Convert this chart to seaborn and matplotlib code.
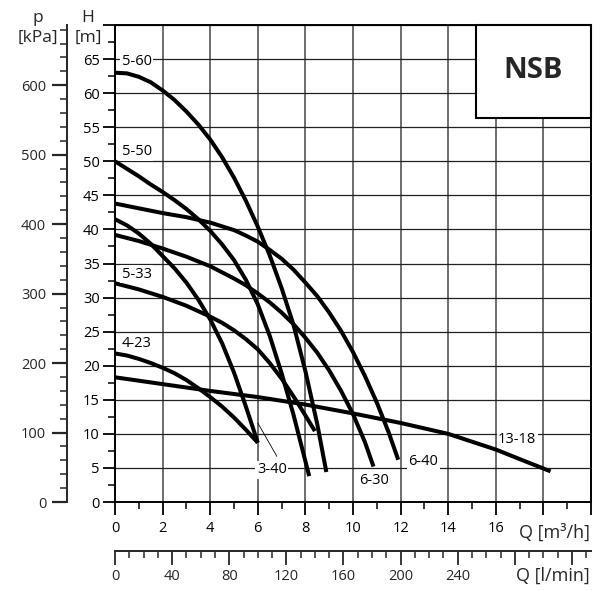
import numpy as np
import pandas as pd
import matplotlib
matplotlib.use("Agg")
import matplotlib.pyplot as plt
from matplotlib.patches import Rectangle
from matplotlib.ticker import MultipleLocator, FixedLocator, FuncFormatter
import seaborn as sns

# Pump performance curves: flow Q [m³/h] vs. head H [m]
pumps = ["5-60", "5-50", "6-40", "3-40", "6-30", "5-33", "4-23", "13-18"]

q_5_60 = [0, 0.5, 1, 1.5, 2, 2.5, 3, 3.5, 4, 4.5, 5, 5.5, 6, 6.5, 7, 7.5, 8, 8.5, 8.88]
h_5_60 = [63.0, 62.9, 62.4, 61.6, 60.4, 59.0, 57.3, 55.4, 53.2, 50.6, 47.6, 44.2, 40.4,
          36.2, 31.4, 26.0, 19.2, 11.4, 4.4]

q_5_50 = [0, 0.5, 1, 1.5, 2, 2.5, 3, 3.5, 4, 4.5, 5, 5.5, 6, 6.5, 7, 7.5, 8.16]
h_5_50 = [50.0, 48.9, 47.8, 46.6, 45.5, 44.3, 43.0, 41.5, 39.8, 37.8, 35.5, 32.6, 29.0,
          24.4, 18.9, 12.8, 3.8]

q_6_40 = [0, 1, 2, 3, 4, 5, 5.5, 6, 6.5, 7, 7.5, 8, 8.5, 9, 9.5, 10, 10.5, 11, 11.5, 11.9]
h_6_40 = [43.8, 43.1, 42.4, 41.8, 41.0, 39.9, 39.1, 38.2, 37.0, 35.7, 34.1, 32.2, 30.2,
          27.8, 25.1, 22.0, 18.5, 14.6, 10.2, 6.2]

q_3_40 = [0, 0.5, 1, 1.5, 2, 2.5, 3, 3.5, 4, 4.5, 5, 5.5, 6]
h_3_40 = [41.5, 40.6, 39.4, 37.9, 36.1, 34.3, 32.2, 29.7, 26.8, 23.3, 19.0, 14.0, 8.7]

q_6_30 = [0, 1, 2, 3, 4, 5, 5.5, 6, 6.5, 7, 7.5, 8, 8.5, 9, 9.5, 10, 10.5, 10.86]
h_6_30 = [39.2, 38.3, 37.2, 36.0, 34.6, 32.8, 31.8, 30.6, 29.3, 27.8, 26.1, 24.1, 21.9,
          19.3, 16.3, 12.9, 8.8, 5.2]

q_5_33 = [0, 1, 2, 3, 4, 4.5, 5, 5.5, 6, 6.5, 7, 7.5, 8, 8.4]
h_5_33 = [32.1, 31.2, 30.1, 28.8, 27.2, 26.3, 25.2, 23.9, 22.4, 20.4, 18.1, 15.5, 12.7, 10.4]

q_4_23 = [0, 0.5, 1, 1.5, 2, 2.5, 3, 3.5, 4, 4.5, 5, 5.5, 6]
h_4_23 = [21.8, 21.5, 21.0, 20.4, 19.7, 18.9, 17.9, 16.7, 15.4, 14.0, 12.4, 10.6, 8.7]

q_13_18 = [0, 2, 4, 6, 8, 10, 12, 14, 16, 17, 18.3]
h_13_18 = [18.3, 17.3, 16.3, 15.4, 14.3, 13.0, 11.6, 10.0, 7.7, 6.3, 4.5]

flows = [q_5_60, q_5_50, q_6_40, q_3_40, q_6_30, q_5_33, q_4_23, q_13_18]
heads = [h_5_60, h_5_50, h_6_40, h_3_40, h_6_30, h_5_33, h_4_23, h_13_18]

# axis tick values
h_ticks = list(range(0, 71, 5))
p_ticks = list(range(0, 601, 100))
q_ticks = list(range(0, 21, 2))
lmin_ticks = list(range(0, 321, 40))

df = pd.concat(
    [pd.DataFrame({"pump": name, "Q": q, "H": h}) for name, q, h in zip(pumps, flows, heads)],
    ignore_index=True,
)

sns.set_style("white")
plt.rcParams["font.family"] = ["Open Sans", "DejaVu Sans"]

W, H_PX = 595, 590
fig = plt.figure(figsize=(W / 100, H_PX / 100), dpi=100)
ax = fig.add_axes([115 / W, 88 / H_PX, 476 / W, 477 / H_PX])
ax.set_axisbelow(True)

sns.lineplot(
    data=df, x="Q", y="H", hue="pump", palette=["black"] * len(pumps),
    sort=False, estimator=None, legend=False, linewidth=2.9, ax=ax,
)
for line in ax.get_lines():
    line.set_solid_capstyle("butt")
    line.set_solid_joinstyle("round")

ax.set_xlim(0, 20)
ax.set_ylim(0, 70)
ax.set_xlabel("")
ax.set_ylabel("")

# grid
ax.xaxis.set_major_locator(FixedLocator(q_ticks))
ax.xaxis.set_minor_locator(MultipleLocator(1))
ax.yaxis.set_major_locator(FixedLocator(h_ticks))
ax.yaxis.set_minor_locator(MultipleLocator(2.5))
ax.grid(True, which="major", axis="x", color="#555555", linewidth=1.2)
ax.grid(True, which="major", axis="y", color="#222222", linewidth=0.9)

for s in ax.spines.values():
    s.set_visible(True)
    s.set_color("black")
    s.set_linewidth(1.4)

tick_fs = 10.5
ax.xaxis.set_major_formatter(FuncFormatter(lambda v, p: f"{v:.0f}" if v <= 16 else ""))
ax.yaxis.set_major_formatter(FuncFormatter(lambda v, p: f"{v:.0f}" if v <= 65 else ""))
ax.tick_params(axis="both", which="major", direction="out", length=9, width=1.3,
               labelsize=tick_fs, color="black", labelcolor="black")
ax.tick_params(axis="x", which="major", pad=5)
ax.tick_params(axis="y", which="major", pad=2)
ax.tick_params(axis="both", which="minor", direction="out", length=5, width=1.1, color="black")
ax.tick_params(bottom=True, left=True, which="both")

# pressure axis (kPa)
pax = ax.secondary_yaxis(-48 / 476, functions=(lambda h: h * 9.81, lambda p: p / 9.81))
pax.yaxis.set_major_locator(FixedLocator(p_ticks))
pax.yaxis.set_minor_locator(MultipleLocator(20))
pax.tick_params(which="major", direction="out", length=11, width=1.6, labelsize=tick_fs, pad=4)
pax.tick_params(which="minor", direction="out", length=5, width=1.1)
pax.spines["left"].set_linewidth(1.4)

# flow axis in l/min
qax = ax.secondary_xaxis(-48.7 / 477, functions=(lambda q: q * 1000 / 60, lambda l: l * 60 / 1000))
qax.xaxis.set_major_locator(FixedLocator(lmin_ticks))
qax.xaxis.set_minor_locator(MultipleLocator(10))
qax.xaxis.set_major_formatter(FuncFormatter(lambda v, p: f"{v:.0f}" if v <= 240 else ""))
qax.tick_params(which="major", direction="out", length=10, width=1.3, labelsize=tick_fs, pad=3)
qax.tick_params(which="minor", direction="out", length=5, width=1.1)
qax.spines["bottom"].set_linewidth(1.4)

# series labels
lbl = dict(fontsize=10.5, color="black", zorder=5,
           bbox=dict(facecolor="white", edgecolor="none", pad=1.0))
ax.text(0.29, 64.7, "5-60", ha="left", va="center", **lbl)
ax.text(0.29, 51.4, "5-50", ha="left", va="center", **lbl)
ax.text(0.29, 33.4, "5-33", ha="left", va="center", **lbl)
ax.text(0.29, 23.3, "4-23", ha="left", va="center", **lbl)
ax.plot([6.0, 6.8], [11.6, 6.7], color="black", linewidth=0.6, zorder=4)
ax.text(6.59, 4.7, "3-40", ha="center", va="center", **lbl)
ax.text(10.88, 3.2, "6-30", ha="center", va="center", **lbl)
ax.text(12.95, 6.0, "6-40", ha="center", va="center", **lbl)
ax.text(16.9, 9.2, "13-18", ha="center", va="center", **lbl)

# series name box
ax.add_patch(Rectangle((361 / 476, 384 / 477), 1 - 361 / 476, 1 - 384 / 477,
                       transform=ax.transAxes, facecolor="white", edgecolor="black",
                       linewidth=1.5, zorder=3, clip_on=False))
ax.text((533 - 115) / 476, (502 - 71) / 477, "NSB", transform=ax.transAxes,
        ha="center", va="center", fontsize=21, fontweight="bold", zorder=6)

# axis titles
def fx(x):
    return x / W

def fy(y):
    return 1 - y / H_PX

fig.text(fx(38), fy(28), "p\n[kPa]", ha="center", va="center", multialignment="center",
         fontsize=12.5, linespacing=1.35)
fig.text(fx(88), fy(28), "H\n[m]", ha="center", va="center", multialignment="center",
         fontsize=12.5, linespacing=1.35)
fig.text(fx(590), fy(538), "Q [m³/h]", ha="right", va="baseline", fontsize=13)
fig.text(fx(590), fy(581), "Q [l/min]", ha="right", va="baseline", fontsize=13)

fig.savefig("out.png", dpi=100)
